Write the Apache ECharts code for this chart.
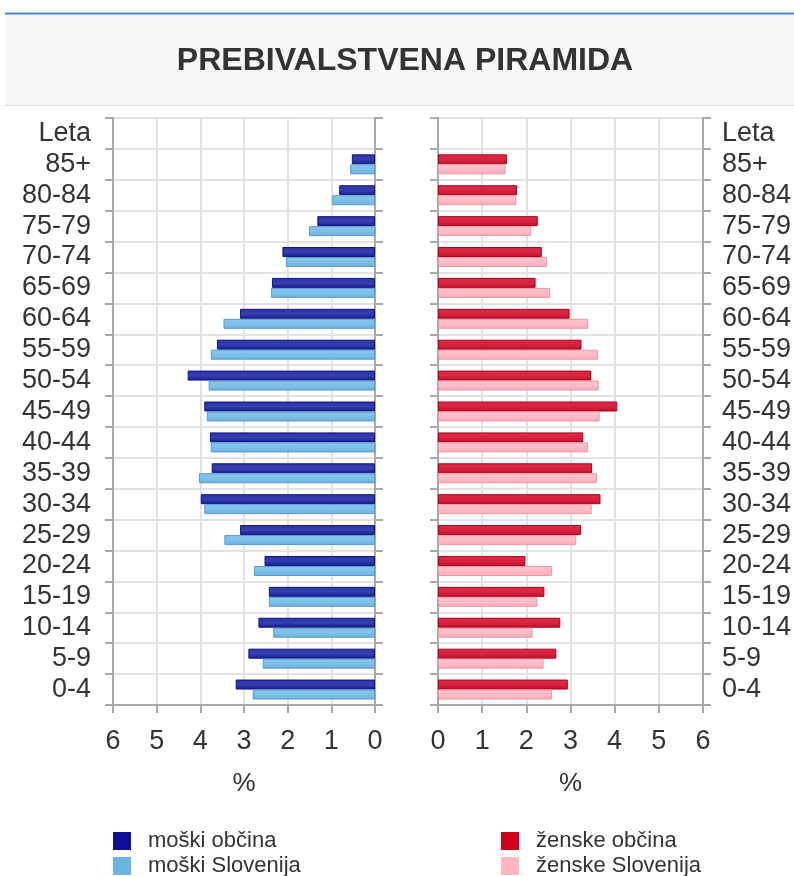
<!DOCTYPE html>
<html>
<head>
<meta charset="utf-8">
<script src="https://cdn.jsdelivr.net/npm/echarts@6/dist/echarts.min.js"></script>
<style>
html,body{margin:0;padding:0;background:#fff;}
#piramida{width:794px;height:876px;}
</style>
</head>
<body>
<div id="piramida"></div>
<script>
// starostne skupine, od spodaj navzgor; "Leta" je samo napis na vrhu osi
var ages = ['0-4', '5-9', '10-14', '15-19', '20-24', '25-29', '30-34', '35-39', '40-44',
    '45-49', '50-54', '55-59', '60-64', '65-69', '70-74', '75-79', '80-84', '85+'];
var axisCats = ages.concat(['Leta']);

var moskiObcina = [3.19, 2.90, 2.67, 2.43, 2.53, 3.09, 3.99, 3.74, 3.78, 3.91, 4.29, 3.62, 3.09, 2.36, 2.12, 1.32, 0.82, 0.53];
var moskiSlovenija = [2.80, 2.57, 2.33, 2.43, 2.77, 3.45, 3.91, 4.03, 3.76, 3.85, 3.81, 3.76, 3.47, 2.38, 2.04, 1.51, 0.98, 0.57];
var zenskeObcina = [2.94, 2.68, 2.77, 2.41, 1.98, 3.24, 3.68, 3.49, 3.29, 4.06, 3.47, 3.25, 2.98, 2.21, 2.35, 2.26, 1.79, 1.56];
var zenskeSlovenija = [2.58, 2.39, 2.14, 2.25, 2.58, 3.13, 3.48, 3.60, 3.40, 3.66, 3.64, 3.62, 3.40, 2.54, 2.47, 2.11, 1.77, 1.53];

var pctTicks = [0, 1, 2, 3, 4, 5, 6];

var chart = echarts.init(document.getElementById('piramida'));
var font = "'Liberation Sans', Arial, sans-serif";

function grad(top, mid, bottom) {
    return new echarts.graphic.LinearGradient(0, 0, 0, 1, [
        {offset: 0, color: top},
        {offset: 0.5, color: mid},
        {offset: 1, color: bottom}
    ]);
}

function valueAxis(grid, inverse) {
    return {
        gridIndex: grid,
        type: 'value',
        min: pctTicks[0],
        max: pctTicks[pctTicks.length - 1],
        interval: 1,
        inverse: inverse,
        name: '%',
        nameLocation: 'middle',
        nameGap: 66,
        nameTextStyle: {fontSize: 26, color: '#333', fontFamily: font},
        axisLine: {show: true, lineStyle: {color: '#a8a8a8', width: 2}},
        axisTick: {show: true, length: 8, lineStyle: {color: '#a8a8a8', width: 2}},
        axisLabel: {fontSize: 27, color: '#333', fontFamily: font, margin: 23},
        splitLine: {show: true, lineStyle: {color: '#e2e2e2', width: 2}}
    };
}

function catAxis(grid, pos, labels) {
    return {
        gridIndex: grid,
        type: 'category',
        position: pos,
        data: axisCats,
        axisLine: {show: true, onZero: false, lineStyle: {color: '#a8a8a8', width: 2}},
        axisTick: {show: true, length: 8, lineStyle: {color: '#a8a8a8', width: 2}},
        axisLabel: {
            show: labels,
            interval: 0,
            fontSize: 27,
            color: '#333',
            fontFamily: font,
            margin: pos == 'left' ? 22 : 19
        },
        splitLine: {show: labels, interval: 0, lineStyle: {color: '#e2e2e2', width: 2}}
    };
}

function barSeries(name, xi, yi, data, fill, border) {
    return {
        name: name,
        type: 'bar',
        xAxisIndex: xi,
        yAxisIndex: yi,
        data: data,
        barWidth: 10,
        barGap: '0%',
        itemStyle: {color: fill, borderColor: border, borderWidth: 1}
    };
}

function legendItem(name, color, left, top) {
    return {
        left: left,
        top: top,
        padding: 0,
        icon: 'rect',
        itemWidth: 18,
        itemHeight: 18,
        textStyle: {fontSize: 22, color: '#333', fontFamily: font, padding: [0, 0, 0, 12]},
        data: [{name: name, itemStyle: {color: color, borderWidth: 0}}]
    };
}

var option = {
    backgroundColor: '#fff',
    animation: false,
    title: {
        text: 'PREBIVALSTVENA PIRAMIDA',
        left: 405,
        top: 45,
        padding: 0,
        textAlign: 'center',
        textStyle: {fontSize: 32, fontWeight: 'bold', color: '#333', fontFamily: font}
    },
    graphic: [
        {type: 'rect', z: -1, shape: {x: 5, y: 14, width: 789, height: 91}, style: {fill: '#f7f7f7'}},
        {type: 'line', z: 0, shape: {x1: 5, y1: 13.5, x2: 794, y2: 13.5}, style: {stroke: '#4a86cc', lineWidth: 2}},
        {type: 'line', z: 0, shape: {x1: 5, y1: 105.5, x2: 794, y2: 105.5}, style: {stroke: '#dcdcdc', lineWidth: 1}}
    ],
    legend: [
        legendItem('moški občina', '#0e0e9b', 113, 830),
        legendItem('moški Slovenija', '#6cb4e4', 113, 855),
        legendItem('ženske občina', '#d0021b', 501, 830),
        legendItem('ženske Slovenija', '#ffb6c0', 501, 855)
    ],
    grid: [
        {left: 113, top: 118, width: 262, height: 587},
        {left: 438, top: 118, width: 265, height: 587}
    ],
    xAxis: [
        valueAxis(0, true),
        valueAxis(1, false)
    ],
    yAxis: [
        catAxis(0, 'left', true),
        catAxis(0, 'right', false),
        catAxis(1, 'left', false),
        catAxis(1, 'right', true)
    ],
    series: [
        barSeries('moški občina', 0, 0, moskiObcina, grad('#2a32a6', '#3440b2', '#161c8c'), '#10168a'),
        barSeries('moški Slovenija', 0, 0, moskiSlovenija, grad('#86c8ec', '#7ec0e8', '#6cb0dc'), '#5c9cc8'),
        barSeries('ženske občina', 1, 3, zenskeObcina, grad('#dc2a44', '#d82440', '#c0102c'), '#b0001c'),
        barSeries('ženske Slovenija', 1, 3, zenskeSlovenija, grad('#ffc4cc', '#ffbcc6', '#f8aab6'), '#e89aa6')
    ]
};

chart.setOption(option);
</script>
</body>
</html>
